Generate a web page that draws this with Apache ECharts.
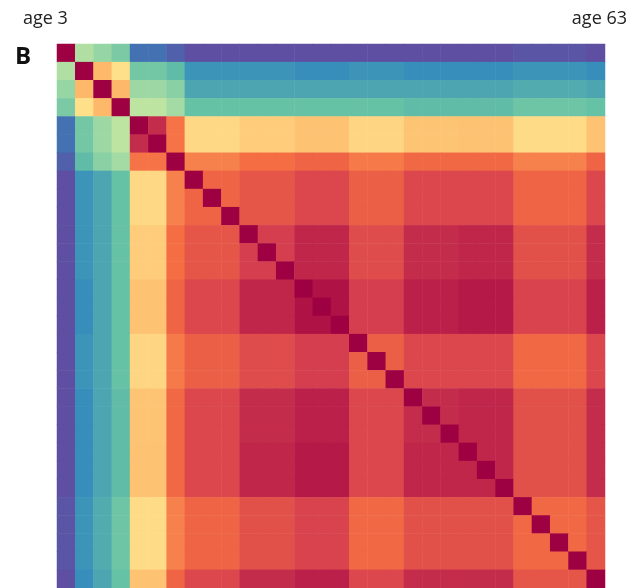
<!DOCTYPE html>
<html><head><meta charset="utf-8">
<script src="https://cdn.jsdelivr.net/npm/echarts@6/dist/echarts.min.js"></script>
<style>html,body{margin:0;padding:0;background:#fff}#c{width:633px;height:588px}</style>
</head><body><div id="c"></div>
<script>
// 30 two-year age bins, age 3 .. age 63
const ages = [3,5,7,9,11,13,15,17,19,21,23,25,27,29,31,33,35,37,39,41,43,45,47,49,51,53,55,57,59,61];
const edgeLabels = ['age 3', 'age 63'];
const panelLabel = 'B';
// block (group) each age bin belongs to
const groupOf = [0,1,2,3,4,4,5,6,6,6,7,7,7,8,8,8,9,9,9,10,10,10,11,11,11,12,12,12,12,13];
// block-level similarity values (0 = purple, 1 = dark red)
const blockG0  = [1.00,0.31,0.27,0.23,0.06,0.03,0.00,0.00,0.00,0.00,0.00,0.00,0.01,0.00];
const blockG1  = [0.31,1.00,0.68,0.60,0.22,0.19,0.12,0.12,0.11,0.12,0.11,0.11,0.12,0.11];
const blockG2  = [0.27,0.68,1.00,0.68,0.28,0.25,0.15,0.15,0.15,0.15,0.15,0.15,0.16,0.15];
const blockG3  = [0.23,0.60,0.68,1.00,0.33,0.29,0.20,0.20,0.20,0.20,0.19,0.19,0.21,0.20];
const blockG4  = [0.06,0.22,0.28,0.33,0.93,0.79,0.615,0.64,0.66,0.62,0.655,0.66,0.61,0.66];
const blockG5  = [0.03,0.19,0.25,0.29,0.79,1.00,0.77,0.80,0.82,0.78,0.81,0.81,0.77,0.82];
const blockG6  = [0.00,0.12,0.15,0.20,0.615,0.77,0.82,0.85,0.88,0.83,0.88,0.88,0.82,0.88];
const blockG7  = [0.00,0.12,0.15,0.20,0.64,0.80,0.85,0.90,0.94,0.87,0.93,0.94,0.86,0.93];
const blockG8  = [0.00,0.11,0.15,0.20,0.66,0.82,0.88,0.94,0.97,0.90,0.95,0.96,0.89,0.95];
const blockG9  = [0.00,0.12,0.15,0.20,0.62,0.78,0.83,0.87,0.90,0.83,0.88,0.88,0.81,0.88];
const blockG10 = [0.00,0.11,0.15,0.19,0.655,0.81,0.88,0.93,0.95,0.88,0.93,0.94,0.86,0.93];
const blockG11 = [0.00,0.11,0.15,0.19,0.66,0.81,0.88,0.94,0.96,0.88,0.94,0.94,0.86,0.93];
const blockG12 = [0.01,0.12,0.16,0.21,0.61,0.77,0.82,0.86,0.89,0.81,0.86,0.86,0.81,0.85];
const blockG13 = [0.00,0.11,0.15,0.20,0.66,0.82,0.88,0.93,0.95,0.88,0.93,0.93,0.85,1.00];
const selfValue = 1.0;

const blocks = [blockG0,blockG1,blockG2,blockG3,blockG4,blockG5,blockG6,blockG7,blockG8,blockG9,blockG10,blockG11,blockG12,blockG13];
const data = [];
for (let i = 0; i < ages.length; i++) {
  for (let j = 0; j < ages.length; j++) {
    const v = i === j ? selfValue : blocks[groupOf[i]][groupOf[j]];
    data.push([j, i, v]);
  }
}

const chart = echarts.init(document.getElementById('c'), null, {renderer: 'canvas'});
chart.setOption({
  animation: false,
  backgroundColor: '#fff',
  grid: {left: 57, top: 44, width: 548, height: 544},
  xAxis: {type: 'category', data: ages.map(String), show: false},
  yAxis: {type: 'category', data: ages.map(String), inverse: true, show: false},
  visualMap: {
    show: false, min: 0, max: 1, calculable: false, dimension: 2,
    inRange: {color: ['#5e4fa2','#3288bd','#66c2a5','#abdda4','#e6f598','#ffffbf','#fee08b','#fdae61','#f46d43','#d53e4f','#9e0142']}
  },
  series: [{
    type: 'heatmap', data: data, emphasis: {disabled: true},
    itemStyle: {borderWidth: 0}
  }],
  graphic: [
    {type: 'text', left: 23, top: 10, style: {text: edgeLabels[0], font: '18px "Open Sans"', fill: '#222'}},
    {type: 'text', right: 6, top: 10, style: {text: edgeLabels[1], font: '18px "Open Sans"', fill: '#222'}},
    {type: 'text', left: 15, top: 45, style: {text: panelLabel, font: 'bold 24px "Open Sans"', fill: '#111'}}
  ]
});
</script></body></html>
